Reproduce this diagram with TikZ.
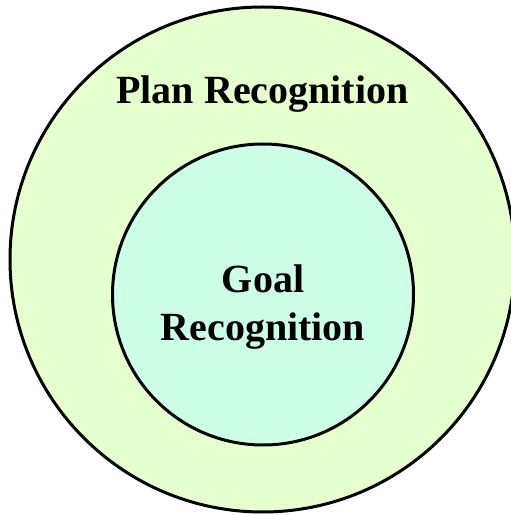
\documentclass[tikz,border=0pt]{standalone}
\usepackage{fontspec}
\setmainfont{Liberation Serif}
\definecolor{outerfill}{RGB}{229,255,206}
\definecolor{innerfill}{RGB}{204,255,230}
\tikzset{
  ring/.style={draw=black, line width=3pt},
  lbl/.style={font=\fontsize{40}{48}\selectfont\bfseries, anchor=base, inner sep=0pt}
}
\begin{document}
\begin{tikzpicture}[x=1pt,y=1pt]
\useasboundingbox (0,0) rectangle (511,515);
\clip (0,0) rectangle (511,515);
\fill[white] (0,0) rectangle (511,515);
\draw[ring, fill=outerfill] (262.5,255.5) circle[radius=252.5];
\draw[ring, fill=innerfill] (263,220.5) circle[radius=150.5];
\node[lbl] (plan) at (262.5,411) {Plan Recognition};
\node[lbl] (goal) at (263,222) {Goal};
\node[lbl] (recog) at (263,174) {Recognition};
\end{tikzpicture}
\end{document}
